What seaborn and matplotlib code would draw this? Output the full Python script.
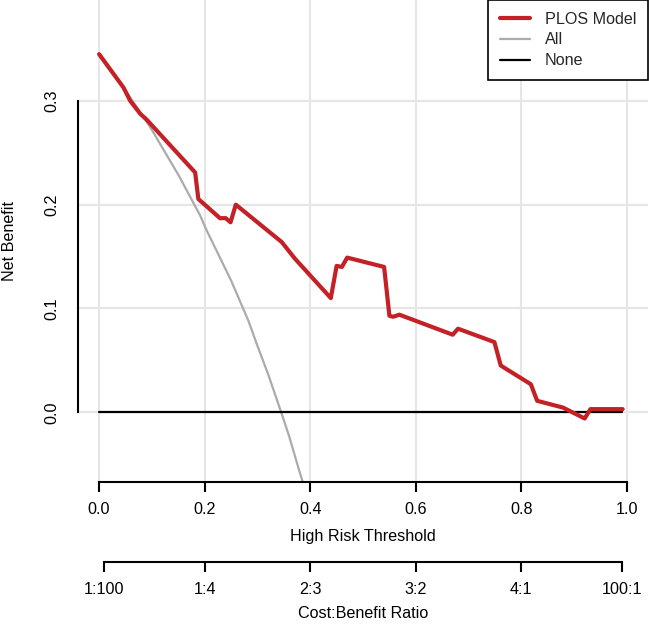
import numpy as np
import pandas as pd
import matplotlib
matplotlib.use("Agg")
import matplotlib.pyplot as plt
import seaborn as sns

# ---- data ----
model_t = [0.000, 0.046, 0.059, 0.078, 0.090, 0.182, 0.188, 0.229, 0.240, 0.249,
           0.259, 0.346, 0.371, 0.439, 0.450, 0.460, 0.470, 0.540, 0.550, 0.557,
           0.569, 0.670, 0.680, 0.749, 0.761, 0.818, 0.830, 0.879, 0.920, 0.931, 0.992]
model_nb = [0.345, 0.313, 0.300, 0.2875, 0.282, 0.231, 0.2055, 0.187, 0.187, 0.183,
            0.200, 0.164, 0.148, 0.110, 0.141, 0.140, 0.149, 0.140, 0.093, 0.092,
            0.094, 0.0747, 0.0805, 0.0676, 0.045, 0.027, 0.011, 0.0045, -0.006, 0.003, 0.003]

all_t = [0.00, 0.05, 0.09, 0.10, 0.144, 0.15, 0.191, 0.204, 0.25, 0.283, 0.30, 0.32, 0.345, 0.36, 0.379, 0.39]
all_nb = [0.345, 0.310, 0.280, 0.272, 0.234, 0.229, 0.190, 0.175, 0.127, 0.088, 0.064, 0.037, 0.000, -0.023, -0.056, -0.074]

none_t = [0.0, 0.99]
none_nb = [0.0, 0.0]

x_ticks = [0.0, 0.2, 0.4, 0.6, 0.8, 1.0]
x_tick_labels = ["0.0", "0.2", "0.4", "0.6", "0.8", "1.0"]
y_ticks = [0.0, 0.1, 0.2, 0.3]
y_tick_labels = ["0.0", "0.1", "0.2", "0.3"]
cb_ticks = [0.01, 0.2, 0.4, 0.6, 0.8, 0.99]
cb_labels = ["1:100", "1:4", "2:3", "3:2", "4:1", "100:1"]

series_names = ["PLOS Model", "All", "None"]

# ---- styling ----
sns.set_style("white")
plt.rcParams["font.family"] = ["Liberation Sans", "DejaVu Sans"]
FS = 11.6

W, H = 649, 625
fig = plt.figure(figsize=(W / 100, H / 100), dpi=100)
# plot region in pixels: x 78..648, y 0..482
ax = fig.add_axes([78 / W, (H - 482) / H, 570 / W, 482 / H])

df_model = pd.DataFrame({"t": model_t, "nb": model_nb})
df_all = pd.DataFrame({"t": all_t, "nb": all_nb})
df_none = pd.DataFrame({"t": none_t, "nb": none_nb})

sns.lineplot(data=df_all, x="t", y="nb", ax=ax, color="#ABABAB", lw=1.6,
             sort=False, estimator=None, label=series_names[1])
sns.lineplot(data=df_none, x="t", y="nb", ax=ax, color="black", lw=1.6,
             sort=False, estimator=None, label=series_names[2])
sns.lineplot(data=df_model, x="t", y="nb", ax=ax, color="#C42127", lw=3.0,
             sort=False, estimator=None, label=series_names[0])

ax.set_xlim(-0.04, 1.04)
ax.set_ylim(-0.0672, 0.3972)

ax.set_xticks(x_ticks)
ax.set_xticklabels(x_tick_labels)
ax.set_yticks(y_ticks)
ax.set_yticklabels(y_tick_labels, rotation=90, va="center")

ax.grid(True, color="#E6E6E6", lw=1.5)
ax.set_axisbelow(True)

for s in ["top", "right"]:
    ax.spines[s].set_visible(False)
for s in ["left", "bottom"]:
    ax.spines[s].set_linewidth(1.5)
    ax.spines[s].set_color("black")
ax.spines["left"].set_bounds(0.0, 0.3)
ax.spines["bottom"].set_bounds(0.0, 1.0)

ax.tick_params(axis="both", direction="out", length=7.5, width=1.5, color="black",
               labelsize=FS, labelcolor="black")
ax.tick_params(axis="x", pad=7)
ax.tick_params(axis="y", pad=6)

ax.set_xlabel("High Risk Threshold", fontsize=FS, color="black")
ax.xaxis.set_label_coords(0.5, -(537 - 482) / 482)
ax.xaxis.label.set_va("center")
ax.set_ylabel("Net Benefit", fontsize=FS, color="black")
ax.yaxis.set_label_coords(-(78 - 10) / 570, 0.5)
ax.yaxis.label.set_va("center")

# secondary cost:benefit axis
ax2 = ax.twiny()
ax2.set_xlim(ax.get_xlim())
ax2.xaxis.set_ticks_position("bottom")
ax2.xaxis.set_label_position("bottom")
for s in ["top", "right", "left"]:
    ax2.spines[s].set_visible(False)
ax2.spines["bottom"].set_position(("outward", 80 * 0.72))
ax2.spines["bottom"].set_bounds(0.01, 0.99)
ax2.spines["bottom"].set_linewidth(1.5)
ax2.spines["bottom"].set_color("black")
ax2.set_xticks(cb_ticks)
ax2.set_xticklabels(cb_labels)
ax2.tick_params(axis="x", direction="out", length=7.5, width=1.5, color="black",
                labelsize=FS, labelcolor="black", pad=7)
ax2.set_xlabel("Cost:Benefit Ratio", fontsize=FS, color="black")
ax2.xaxis.set_label_coords(0.5, -(613 - 482) / 482)
ax2.xaxis.label.set_va("center")
ax2.grid(False)

# legend (order: model, all, none)
handles, labels = ax.get_legend_handles_labels()
order = [labels.index(n) for n in series_names]
leg = ax2.legend([handles[i] for i in order], [labels[i] for i in order],
                 loc="upper right", bbox_to_anchor=(1.0, 1.0), bbox_transform=ax.transAxes,
                 borderaxespad=0.0, fancybox=False, frameon=True, fontsize=FS,
                 handlelength=1.9, handletextpad=0.9, labelspacing=0.36, borderpad=0.72)
leg.get_frame().set_edgecolor("black")
leg.get_frame().set_linewidth(1.2)
leg.get_frame().set_alpha(1.0)
if ax.get_legend() is not None:
    ax.get_legend().remove()

fig.savefig("out.png", dpi=100)
